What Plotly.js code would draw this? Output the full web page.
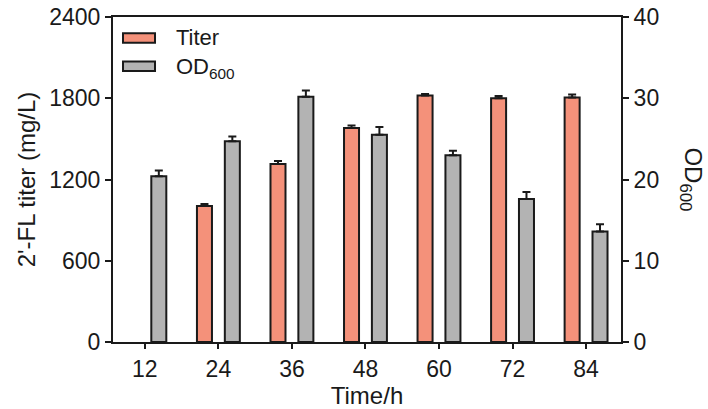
<!DOCTYPE html>
<html>
<head>
<meta charset="utf-8">
<script src="https://cdn.plot.ly/plotly-3.0.1.min.js"></script>
<style>html,body{margin:0;padding:0;background:#fff;}#chart{width:708px;height:409px;}</style>
</head>
<body>
<div id="chart"></div>
<script>
const timeH = [12, 24, 36, 48, 60, 72, 84];
const titer = [null, 1005, 1315, 1580, 1820, 1800, 1805];
const titerErr = [0, 15, 22, 18, 12, 16, 22];
const od600 = [20.4, 24.7, 30.2, 25.5, 23.0, 17.6, 13.6];
const od600Err = [0.7, 0.6, 0.75, 0.95, 0.55, 0.85, 0.9];
const yTicks = [0, 600, 1200, 1800, 2400];
const y2Ticks = [0, 10, 20, 30, 40];
const seriesNames = ['Titer', 'OD<sub>600</sub>'];

const fam = 'Liberation Sans, Arial, sans-serif';
const txtCol = '#1a1a1a';
const lineCol = '#1a1a1a';
const titerCol = '#F4917A';
const odCol = '#B3B3B3';

const traces = [
  {
    type: 'bar', name: seriesNames[0], x: timeH, y: titer, yaxis: 'y',
    width: 2.45, offset: -3.5,
    marker: {color: titerCol, line: {color: lineCol, width: 2}},
    error_y: {type: 'data', array: titerErr, arrayminus: titerErr.map(() => 0), symmetric: false, color: lineCol, thickness: 2, width: 4}
  },
  {
    type: 'bar', name: seriesNames[1], x: timeH, y: od600, yaxis: 'y2',
    width: 2.45, offset: 1.05,
    marker: {color: odCol, line: {color: lineCol, width: 2}},
    error_y: {type: 'data', array: od600Err, arrayminus: od600Err.map(() => 0), symmetric: false, color: lineCol, thickness: 2, width: 4}
  }
];

// legend drawn as wide swatches (paper coordinates)
const legendShapes = [
  {type: 'rect', xref: 'paper', yref: 'paper', x0: 0.0197, x1: 0.0827, y0: 0.921, y1: 0.950, fillcolor: titerCol, line: {color: lineCol, width: 2}},
  {type: 'rect', xref: 'paper', yref: 'paper', x0: 0.0197, x1: 0.0827, y0: 0.834, y1: 0.863, fillcolor: odCol, line: {color: lineCol, width: 2}}
];
const legendTexts = [
  {text: seriesNames[0], xref: 'paper', yref: 'paper', x: 0.12, y: 0.936, xanchor: 'left', yanchor: 'middle', showarrow: false, font: {size: 22, family: fam, color: txtCol}},
  {text: seriesNames[1], xref: 'paper', yref: 'paper', x: 0.12, y: 0.843, xanchor: 'left', yanchor: 'middle', showarrow: false, font: {size: 22, family: fam, color: txtCol}}
];

const layout = {
  width: 708, height: 409,
  margin: {l: 113, r: 87, t: 17, b: 67},
  paper_bgcolor: '#ffffff', plot_bgcolor: '#ffffff',
  font: {family: fam, size: 23, color: txtCol},
  barmode: 'overlay',
  showlegend: false,
  xaxis: {
    range: [6.8, 89.7], tickvals: timeH, ticktext: timeH.map(String),
    tickfont: {size: 23, family: fam, color: txtCol},
    showline: true, linecolor: lineCol, linewidth: 2, mirror: true,
    ticks: 'outside', ticklen: 5, tickwidth: 2, tickcolor: lineCol,
    showgrid: false, zeroline: false,
    title: {text: 'Time/h', font: {size: 24, family: fam, color: txtCol}, standoff: 2}
  },
  yaxis: {
    range: [0, 2400], tickvals: yTicks,
    tickfont: {size: 23, family: fam, color: txtCol},
    showline: true, linecolor: lineCol, linewidth: 2,
    ticks: 'outside', ticklen: 6, tickwidth: 2, tickcolor: lineCol,
    showgrid: false, zeroline: false,
    title: {text: "2'-FL titer (mg/L)", font: {size: 24, family: fam, color: txtCol}, standoff: 7}
  },
  yaxis2: {
    range: [0, 40], tickvals: y2Ticks, overlaying: 'y', side: 'right',
    tickfont: {size: 23, family: fam, color: txtCol},
    showline: true, linecolor: lineCol, linewidth: 2,
    ticks: 'outside', ticklen: 6, tickwidth: 2, tickcolor: lineCol,
    showgrid: false, zeroline: false
  },
  shapes: legendShapes,
  annotations: legendTexts.concat([{
    text: 'OD<sub>600</sub>', xref: 'paper', yref: 'paper', x: 1.138, y: 0.5,
    xanchor: 'center', yanchor: 'middle',
    showarrow: false, textangle: 90, font: {size: 24, family: fam, color: txtCol}
  }])
};

Plotly.newPlot('chart', traces, layout, {displayModeBar: false, staticPlot: true});
</script>
</body>
</html>
